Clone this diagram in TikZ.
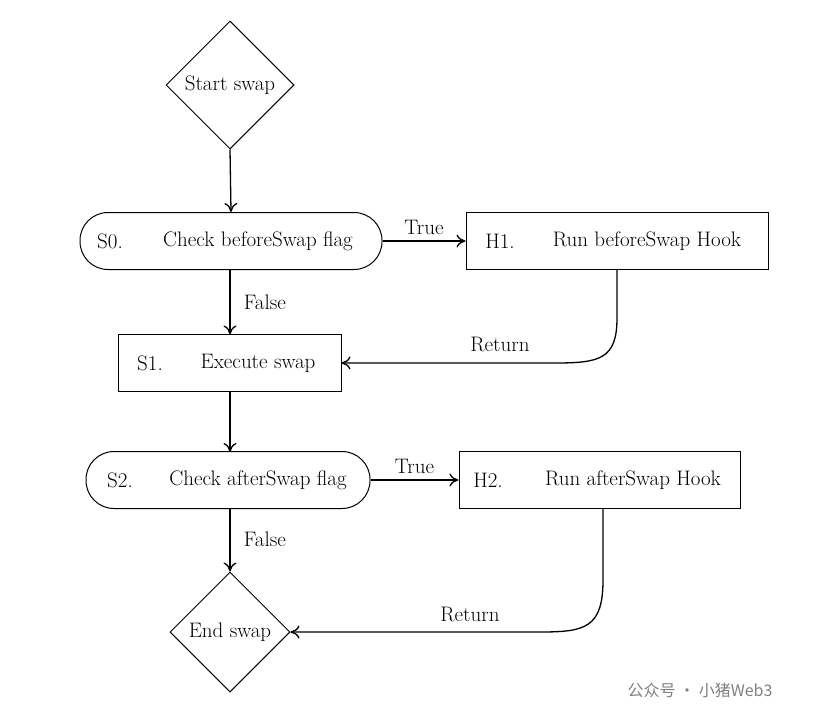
\documentclass[tikz,border=0pt]{standalone}
\usepackage{fontspec}
\newfontfamily\cjk{Noto Sans CJK SC}
\usetikzlibrary{shapes.geometric,arrows.meta}
\begin{document}
\begin{tikzpicture}[x=1pt,y=-1pt,
  every node/.style={font=\fontsize{21}{24}\selectfont},
  dia/.style={draw,diamond,minimum width=#1,minimum height=#1,inner sep=0pt,line width=1pt},
  box/.style={draw,line width=1pt,minimum height=57},
  rbox/.style={draw,line width=1pt,minimum height=57,rounded corners=28},
  arr/.style={-{To[length=9,width=13]},line width=1.3pt}]
\path[use as bounding box,fill=white] (0,0) rectangle (830,720);
\node[dia=128] (st) at (230,85) {Start swap};
\node[rbox,minimum width=302] (s0) at (231,241) {};
\node at (110,241) {S0.}; \node at (258,241) {Check beforeSwap flag};
\node[box,minimum width=302] (h1) at (617,241) {};
\node at (500,241) {H1.}; \node at (647,241) {Run beforeSwap Hook};
\node[box,minimum width=223] (s1) at (229.5,363) {};
\node at (150,363) {S1.}; \node at (258,363) {Execute swap};
\node[rbox,minimum width=284] (s2) at (228,480) {};
\node at (120,480) {S2.}; \node at (258,480) {Check afterSwap flag};
\node[box,minimum width=281] (h2) at (599.5,480) {};
\node at (488,480) {H2.}; \node at (633,480) {Run afterSwap Hook};
\node[dia=120] (en) at (230,632) {End swap};
\draw[arr] (st.south) -- (s0.south |- s0.north);
\draw[arr] (230,270) -- (230,334.5) node[midway,right=10pt] {False};
\draw[arr] (s0.east) -- (h1.west) node[pos=0.5,above=2pt] {True};
\draw[arr] (617,270) -- (617,318) .. controls (617,359) and (600,363) .. (555,363) -- (s1.east);
\node at (500,344) {Return};
\draw[arr] (230,391.5) -- (230,452);
\draw[arr] (s2.east) -- (h2.west) node[pos=0.5,above=2pt] {True};
\draw[arr] (230,508) -- (en.north) node[midway,right=10pt] {False};
\draw[arr] (603,508) -- (603,580) .. controls (603,628) and (585,632) .. (540,632) -- (en.east);
\node at (470,614) {Return};
\node[font=\cjk\fontsize{16}{19}\selectfont,text=gray] (wm) at (700,690) {公众号 · 小猪Web3};
\end{tikzpicture}
\end{document}
